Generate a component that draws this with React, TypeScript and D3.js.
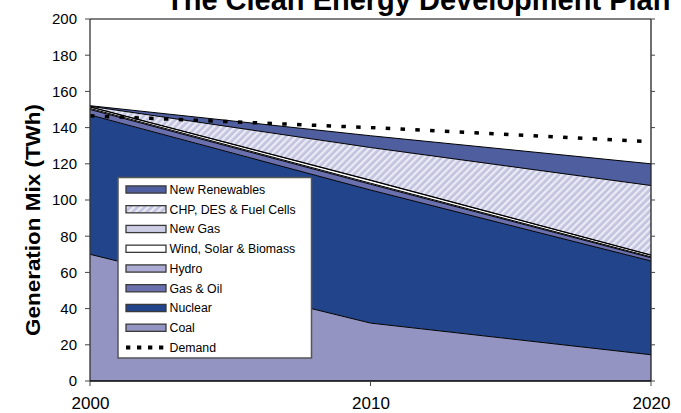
import React from 'react';
import * as d3 from 'd3';

// Generation mix (TWh) by source, stacked bottom to top
const years = [2000, 2010, 2020];
const coal = [70, 32, 14.5];
const nuclear = [77, 73.5, 51.8];
const gasOil = [3.0, 3.2, 1.8];
const hydro = [0.6, 0.6, 0.5];
const windSolarBiomass = [0.8, 1.5, 0.9];
const newGas = [0.1, 0.2, 0.1];
const chpDesFuelCells = [0.3, 18, 38.4];
const newRenewables = [0.3, 6.5, 12];
const demand = [146.5, 140, 132.2];

const yTicks = [0, 20, 40, 60, 80, 100, 120, 140, 160, 180, 200];
const xTicks = [2000, 2010, 2020];

const seriesNames = [
  'Coal',
  'Nuclear',
  'Gas & Oil',
  'Hydro',
  'Wind, Solar & Biomass',
  'New Gas',
  'CHP, DES & Fuel Cells',
  'New Renewables',
];
const seriesValues = [coal, nuclear, gasOil, hydro, windSolarBiomass, newGas, chpDesFuelCells, newRenewables];
const seriesFills = [
  '#9494c2',
  '#21448a',
  '#6a6fae',
  '#ababd4',
  '#ffffff',
  '#cdcde6',
  'url(#hatch)',
  '#4e5e9e',
];

const W = 681;
const H = 413;
const plot = { left: 90, right: 651, top: 19, bottom: 381 };

export default function App() {
  const x = d3.scaleLinear().domain([2000, 2020]).range([plot.left, plot.right]);
  const y = d3.scaleLinear().domain([0, 200]).range([plot.bottom, plot.top]);

  const rows = years.map((yr, i) => {
    const r: Record<string, number> = { year: yr };
    seriesNames.forEach((n, k) => (r[n] = seriesValues[k][i]));
    return r;
  });
  const stacked = d3.stack<Record<string, number>>().keys(seriesNames)(rows);

  const area = d3
    .area<d3.SeriesPoint<Record<string, number>>>()
    .x((d) => x(d.data.year))
    .y0((d) => y(d[0]))
    .y1((d) => y(d[1]));
  const topLine = d3
    .line<d3.SeriesPoint<Record<string, number>>>()
    .x((d) => x(d.data.year))
    .y((d) => y(d[1]));
  const demandLine = d3
    .line<number>()
    .x((_, i) => x(years[i]))
    .y((d) => y(d));

  const legendItems = [...seriesNames.map((n, k) => ({ name: n, fill: seriesFills[k] })).reverse()];
  const legend = { x: 118, y: 177.5, w: 193.5, h: 180.5 };
  const rowStep = 19.75;
  const firstRow = 189.5;

  return (
    <svg
      width={W}
      height={H}
      style={{ position: 'fixed', left: 0, top: 0, background: '#fff' }}
      fontFamily="'Liberation Sans', Arial, sans-serif"
    >
      <defs>
        <pattern id="hatch" patternUnits="userSpaceOnUse" width="5" height="5" patternTransform="rotate(45)">
          <rect width="5" height="5" fill="#c2c3de" />
          <rect width="2.3" height="5" fill="#ebebf5" />
        </pattern>
      </defs>

      <text x={166} y={10} fontSize={29} fontWeight="bold" fill="#000">
        The Clean Energy Development Plan
      </text>

      {/* stacked areas */}
      {stacked.map((s, k) => (
        <path key={s.key} d={area(s) ?? ''} fill={seriesFills[k]} stroke="none" />
      ))}
      {stacked.map((s) => (
        <path key={'l' + s.key} d={topLine(s) ?? ''} fill="none" stroke="#000" strokeWidth={1} />
      ))}

      {/* demand */}
      <path
        d={demandLine(demand) ?? ''}
        fill="none"
        stroke="#000"
        strokeWidth={3.5}
        strokeDasharray="4.5 10.3"
      />

      {/* frame */}
      <line x1={plot.left} x2={plot.right} y1={plot.top} y2={plot.top} stroke="#000" strokeWidth={1} />
      <line x1={plot.right} x2={plot.right} y1={plot.top} y2={plot.bottom} stroke="#222" strokeWidth={1.3} />
      <line x1={plot.left} x2={plot.left} y1={plot.top} y2={plot.bottom} stroke="#333" strokeWidth={1.3} />
      <line x1={plot.left} x2={plot.right} y1={plot.bottom} y2={plot.bottom} stroke="#000" strokeWidth={1.6} />

      {/* y ticks */}
      {yTicks.map((t) => (
        <g key={'y' + t}>
          <line x1={plot.left - 5} x2={plot.left} y1={y(t)} y2={y(t)} stroke="#444" strokeWidth={1} />
          <line x1={plot.right} x2={plot.right + 4} y1={y(t)} y2={y(t)} stroke="#444" strokeWidth={1} />
          <text x={77} y={y(t) + 5.3} fontSize={15} textAnchor="end" fill="#000">
            {t}
          </text>
        </g>
      ))}

      {/* x ticks */}
      {xTicks.map((t) => (
        <g key={'x' + t}>
          <line x1={x(t)} x2={x(t)} y1={plot.bottom} y2={plot.bottom + 5} stroke="#444" strokeWidth={1} />
          <text x={x(t) + 0.5} y={409} fontSize={17} textAnchor="middle" fill="#000">
            {t}
          </text>
        </g>
      ))}

      <text
        transform="translate(39.5,220) rotate(-90)"
        fontSize={19.5}
        fontWeight="bold"
        textAnchor="middle"
        textLength={232}
        lengthAdjust="spacingAndGlyphs"
        fill="#000"
      >
        Generation Mix (TWh)
      </text>

      {/* legend */}
      <rect x={legend.x} y={legend.y} width={legend.w} height={legend.h} fill="#fff" stroke="#555" strokeWidth={1.5} />
      {legendItems.map((it, i) => {
        const cy = firstRow + i * rowStep;
        return (
          <g key={'lg' + it.name}>
            <rect x={126} y={cy - 3.6} width={40} height={7.2} fill={it.fill} stroke="#3a3a3a" strokeWidth={1.3} />
            <text x={169.5} y={cy + 4.3} fontSize={12.3} fill="#000">
              {it.name}
            </text>
          </g>
        );
      })}
      {(() => {
        const cy = firstRow + legendItems.length * rowStep;
        return (
          <g>
            <line x1={126} x2={166} y1={cy} y2={cy} stroke="#000" strokeWidth={3.8} strokeDasharray="4.3 6.7" />
            <text x={169.5} y={cy + 4.3} fontSize={12.3} fill="#000">
              Demand
            </text>
          </g>
        );
      })()}
    </svg>
  );
}
